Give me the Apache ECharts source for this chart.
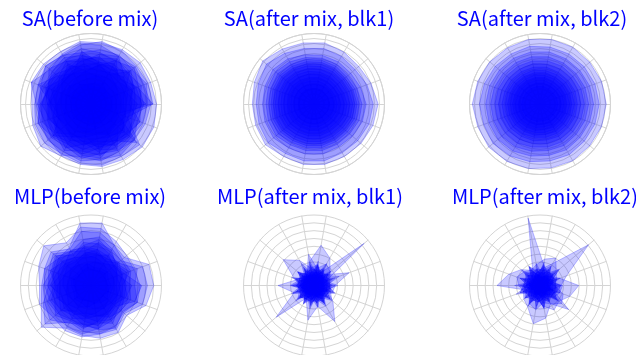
<!DOCTYPE html>
<html>
<head>
<meta charset="utf-8">
<script src="https://cdn.jsdelivr.net/npm/echarts@6/dist/echarts.min.js"></script>
<style>
html,body{margin:0;padding:0;background:#fff;}
#chart{width:636px;height:355px;}
</style>
</head>
<body>
<div id="chart"></div>
<script>
// Panel titles
const titles = ['SA(before mix)', 'SA(after mix, blk1)', 'SA(after mix, blk2)',
                'MLP(before mix)', 'MLP(after mix, blk1)', 'MLP(after mix, blk2)'];
// 18 directions, every 20 degrees counter-clockwise from the right
const directions = ['0','20','40','60','80','100','120','140','160','180','200','220','240','260','280','300','320','340'];

// Polygon radii (fraction of outer circle), one row per polygon, ordered by direction
const saBefore = [
  [0.93,0.90,0.91,0.89,0.88,0.90,0.86,0.88,0.90,0.84,0.88,0.93,0.85,0.87,0.90,0.91,0.95,0.95],
  [0.88,0.86,0.84,0.87,0.90,0.85,0.80,0.84,0.80,0.80,0.84,0.86,0.82,0.85,0.88,0.86,0.90,0.55],
  [0.85,0.80,0.82,0.78,0.84,0.88,0.82,0.76,0.90,0.78,0.76,0.80,0.78,0.82,0.80,0.84,0.80,0.82],
  [0.80,0.84,0.76,0.80,0.78,0.74,0.80,0.84,0.76,0.74,0.80,0.78,0.84,0.76,0.82,0.78,0.74,0.78],
  [0.75,0.72,0.80,0.70,0.74,0.80,0.72,0.68,0.74,0.76,0.70,0.74,0.70,0.78,0.72,0.76,0.80,0.70],
  [0.70,0.76,0.68,0.74,0.66,0.70,0.76,0.72,0.66,0.70,0.74,0.66,0.76,0.68,0.74,0.70,0.68,0.74],
  [0.62,0.66,0.70,0.60,0.68,0.64,0.58,0.66,0.70,0.62,0.66,0.70,0.62,0.66,0.58,0.68,0.72,0.62],
  [0.88,0.70,0.55,0.62,0.58,0.66,0.70,0.60,0.64,0.70,0.62,0.58,0.66,0.72,0.64,0.60,0.85,0.40],
  [0.58,0.62,0.55,0.66,0.60,0.54,0.62,0.58,0.52,0.60,0.64,0.56,0.60,0.54,0.62,0.66,0.58,0.56],
  [0.50,0.56,0.60,0.52,0.48,0.58,0.54,0.50,0.56,0.62,0.52,0.48,0.56,0.60,0.50,0.54,0.58,0.52],
  [0.78,0.60,0.50,0.72,0.55,0.48,0.66,0.52,0.60,0.50,0.58,0.64,0.50,0.56,0.70,0.52,0.62,0.48],
  [0.46,0.50,0.44,0.52,0.56,0.46,0.50,0.54,0.44,0.48,0.52,0.46,0.54,0.48,0.44,0.50,0.46,0.52],
  [0.42,0.40,0.46,0.44,0.40,0.48,0.42,0.38,0.46,0.42,0.40,0.44,0.46,0.40,0.42,0.48,0.44,0.40],
  [0.36,0.40,0.34,0.38,0.42,0.36,0.34,0.40,0.38,0.36,0.40,0.34,0.38,0.42,0.36,0.34,0.38,0.40],
  [0.66,0.52,0.72,0.48,0.60,0.76,0.50,0.62,0.80,0.56,0.48,0.70,0.54,0.46,0.66,0.74,0.50,0.60],
  [0.30,0.32,0.28,0.34,0.30,0.28,0.32,0.30,0.34,0.28,0.30,0.32,0.28,0.30,0.34,0.30,0.28,0.32],
  [0.72,0.68,0.62,0.78,0.72,0.62,0.70,0.78,0.64,0.72,0.80,0.72,0.66,0.74,0.78,0.64,0.70,0.66],
  [0.54,0.64,0.74,0.56,0.62,0.70,0.60,0.54,0.68,0.58,0.56,0.62,0.72,0.58,0.54,0.62,0.66,0.74],
  [0.26,0.24,0.28,0.26,0.24,0.28,0.26,0.24,0.28,0.26,0.24,0.28,0.26,0.24,0.28,0.26,0.24,0.28]
];
const saBlk1 = [
  [0.91,0.86,0.83,0.85,0.88,0.88,0.90,0.95,0.90,0.875,0.88,0.90,0.86,0.87,0.87,0.86,0.87,0.89],
  [0.84,0.80,0.76,0.78,0.80,0.80,0.83,0.88,0.84,0.82,0.83,0.85,0.81,0.82,0.82,0.80,0.81,0.83],
  [0.74,0.70,0.68,0.69,0.70,0.71,0.74,0.76,0.74,0.73,0.74,0.75,0.72,0.72,0.72,0.70,0.71,0.73],
  [0.68,0.65,0.63,0.65,0.66,0.67,0.69,0.71,0.69,0.68,0.69,0.70,0.67,0.67,0.67,0.66,0.66,0.68],
  [0.64,0.62,0.60,0.62,0.63,0.64,0.65,0.67,0.65,0.64,0.65,0.66,0.63,0.63,0.63,0.62,0.62,0.64],
  [0.61,0.59,0.57,0.59,0.60,0.61,0.62,0.63,0.62,0.61,0.62,0.62,0.60,0.60,0.60,0.59,0.59,0.61],
  [0.58,0.56,0.55,0.56,0.57,0.58,0.59,0.60,0.59,0.58,0.59,0.59,0.57,0.57,0.57,0.56,0.56,0.58],
  [0.55,0.53,0.52,0.53,0.54,0.55,0.56,0.57,0.56,0.55,0.56,0.56,0.54,0.54,0.54,0.53,0.53,0.55],
  [0.51,0.49,0.48,0.49,0.50,0.51,0.52,0.53,0.52,0.51,0.52,0.52,0.50,0.50,0.50,0.49,0.49,0.51],
  [0.47,0.45,0.44,0.45,0.46,0.47,0.48,0.49,0.48,0.47,0.48,0.48,0.46,0.46,0.46,0.45,0.45,0.47],
  [0.43,0.41,0.40,0.41,0.42,0.43,0.44,0.45,0.44,0.43,0.44,0.44,0.42,0.42,0.42,0.41,0.41,0.43],
  [0.38,0.37,0.36,0.37,0.38,0.38,0.39,0.40,0.39,0.38,0.39,0.39,0.38,0.38,0.38,0.37,0.37,0.38],
  [0.33,0.32,0.31,0.32,0.33,0.33,0.34,0.35,0.34,0.33,0.34,0.34,0.33,0.33,0.33,0.32,0.32,0.33],
  [0.28,0.27,0.27,0.28,0.28,0.28,0.29,0.29,0.29,0.28,0.29,0.29,0.28,0.28,0.28,0.27,0.27,0.28],
  [0.22,0.22,0.21,0.22,0.22,0.22,0.23,0.23,0.23,0.22,0.23,0.23,0.22,0.22,0.22,0.22,0.21,0.22]
];
const saBlk2 = [
  [0.94,0.93,0.92,0.93,0.93,0.93,0.92,0.93,0.94,0.96,0.94,0.95,0.94,0.93,0.92,0.93,0.92,0.93],
  [0.84,0.83,0.82,0.82,0.82,0.83,0.82,0.83,0.84,0.86,0.85,0.87,0.85,0.83,0.82,0.83,0.82,0.83],
  [0.76,0.75,0.74,0.74,0.75,0.75,0.75,0.75,0.76,0.77,0.77,0.78,0.77,0.75,0.74,0.75,0.74,0.75],
  [0.69,0.68,0.67,0.67,0.68,0.68,0.68,0.68,0.69,0.70,0.70,0.71,0.70,0.68,0.67,0.68,0.67,0.68],
  [0.63,0.62,0.61,0.62,0.62,0.62,0.62,0.62,0.63,0.64,0.64,0.64,0.64,0.62,0.62,0.62,0.61,0.62],
  [0.58,0.57,0.57,0.57,0.57,0.58,0.57,0.57,0.58,0.59,0.59,0.59,0.58,0.57,0.57,0.57,0.57,0.57],
  [0.53,0.53,0.52,0.52,0.53,0.53,0.53,0.53,0.53,0.54,0.54,0.54,0.53,0.53,0.52,0.53,0.52,0.53],
  [0.49,0.48,0.48,0.48,0.48,0.49,0.48,0.48,0.49,0.49,0.49,0.50,0.49,0.48,0.48,0.48,0.48,0.48],
  [0.45,0.45,0.44,0.44,0.45,0.45,0.45,0.45,0.45,0.46,0.46,0.46,0.45,0.45,0.44,0.45,0.44,0.45],
  [0.42,0.41,0.41,0.41,0.41,0.42,0.41,0.41,0.42,0.42,0.42,0.42,0.42,0.41,0.41,0.41,0.41,0.41],
  [0.38,0.38,0.37,0.37,0.38,0.38,0.38,0.38,0.38,0.39,0.39,0.39,0.38,0.38,0.37,0.38,0.37,0.38],
  [0.34,0.34,0.33,0.33,0.34,0.34,0.34,0.34,0.34,0.35,0.35,0.35,0.34,0.34,0.33,0.34,0.33,0.34],
  [0.30,0.30,0.29,0.29,0.30,0.30,0.30,0.30,0.30,0.31,0.31,0.31,0.30,0.30,0.29,0.30,0.29,0.30],
  [0.25,0.25,0.24,0.24,0.25,0.25,0.25,0.25,0.25,0.26,0.26,0.26,0.25,0.25,0.24,0.25,0.24,0.25]
];
const mlpBefore = [
  [0.89,0.875,0.62,0.66,0.90,0.90,0.62,0.60,0.70,0.70,0.75,0.92,0.70,0.72,0.76,0.77,0.66,0.83],
  [0.70,0.65,0.66,0.72,0.82,0.84,0.70,0.875,0.79,0.73,0.78,0.70,0.74,0.74,0.70,0.68,0.60,0.70],
  [0.80,0.78,0.55,0.60,0.70,0.66,0.56,0.70,0.64,0.60,0.72,0.85,0.60,0.66,0.70,0.72,0.62,0.78],
  [0.55,0.60,0.58,0.66,0.76,0.78,0.60,0.74,0.70,0.66,0.62,0.60,0.68,0.70,0.62,0.58,0.55,0.60],
  [0.62,0.70,0.50,0.52,0.60,0.62,0.50,0.66,0.60,0.68,0.70,0.76,0.62,0.56,0.64,0.70,0.58,0.70],
  [0.45,0.58,0.48,0.55,0.66,0.58,0.52,0.60,0.56,0.62,0.55,0.66,0.58,0.62,0.52,0.56,0.50,0.48],
  [0.72,0.50,0.44,0.48,0.52,0.56,0.46,0.52,0.62,0.50,0.60,0.54,0.50,0.58,0.62,0.50,0.46,0.66],
  [0.50,0.46,0.52,0.44,0.48,0.54,0.58,0.48,0.46,0.56,0.50,0.46,0.54,0.48,0.44,0.52,0.56,0.50],
  [0.40,0.48,0.42,0.50,0.44,0.40,0.46,0.54,0.50,0.44,0.48,0.56,0.42,0.46,0.52,0.44,0.40,0.46],
  [0.58,0.42,0.38,0.42,0.46,0.48,0.40,0.44,0.40,0.48,0.52,0.44,0.48,0.40,0.44,0.48,0.42,0.52],
  [0.36,0.40,0.44,0.36,0.40,0.44,0.38,0.36,0.42,0.40,0.36,0.42,0.38,0.44,0.40,0.36,0.38,0.40],
  [0.32,0.34,0.30,0.36,0.34,0.30,0.34,0.38,0.32,0.34,0.38,0.32,0.36,0.30,0.34,0.38,0.32,0.30],
  [0.28,0.26,0.30,0.28,0.26,0.32,0.28,0.26,0.30,0.28,0.26,0.30,0.28,0.32,0.26,0.28,0.30,0.26],
  [0.48,0.54,0.46,0.58,0.62,0.50,0.56,0.64,0.58,0.52,0.66,0.62,0.56,0.60,0.54,0.62,0.50,0.56],
  [0.42,0.38,0.50,0.40,0.52,0.46,0.42,0.48,0.52,0.58,0.44,0.50,0.46,0.52,0.58,0.46,0.44,0.40],
  [0.24,0.22,0.26,0.24,0.22,0.26,0.24,0.22,0.26,0.24,0.22,0.26,0.24,0.22,0.26,0.24,0.22,0.26]
];
const mlpBlk1 = [
  [0.22,0.18,0.93,0.22,0.20,0.15,0.12,0.18,0.15,0.20,0.12,0.15,0.10,0.12,0.15,0.20,0.18,0.22],
  [0.30,0.53,0.24,0.20,0.16,0.14,0.12,0.14,0.12,0.16,0.12,0.14,0.12,0.12,0.14,0.16,0.14,0.20],
  [0.15,0.24,0.30,0.45,0.58,0.35,0.20,0.15,0.12,0.18,0.10,0.12,0.15,0.10,0.12,0.15,0.10,0.12],
  [0.10,0.12,0.15,0.20,0.30,0.25,0.41,0.57,0.30,0.20,0.15,0.12,0.10,0.12,0.10,0.08,0.10,0.12],
  [0.12,0.10,0.15,0.10,0.12,0.20,0.15,0.20,0.25,0.51,0.30,0.70,0.20,0.15,0.10,0.12,0.10,0.15],
  [0.15,0.12,0.10,0.12,0.10,0.12,0.15,0.10,0.12,0.15,0.20,0.25,0.22,0.50,0.30,0.59,0.35,0.20],
  [0.24,0.20,0.30,0.35,0.25,0.45,0.20,0.15,0.20,0.25,0.20,0.15,0.30,0.20,0.25,0.20,0.33,0.25],
  [0.18,0.38,0.22,0.16,0.30,0.14,0.24,0.18,0.28,0.16,0.22,0.30,0.14,0.26,0.18,0.28,0.16,0.20],
  [0.12,0.16,0.26,0.12,0.20,0.28,0.12,0.22,0.14,0.30,0.12,0.18,0.26,0.12,0.30,0.14,0.24,0.12],
  [0.20,0.10,0.18,0.24,0.12,0.16,0.30,0.12,0.20,0.14,0.28,0.10,0.18,0.22,0.12,0.26,0.14,0.30],
  [0.10,0.22,0.12,0.18,0.14,0.10,0.18,0.26,0.10,0.22,0.14,0.20,0.10,0.18,0.24,0.10,0.20,0.14],
  [0.14,0.12,0.20,0.10,0.24,0.12,0.10,0.14,0.22,0.12,0.18,0.14,0.22,0.10,0.14,0.18,0.12,0.10],
  [0.30,0.14,0.20,0.12,0.35,0.16,0.28,0.12,0.22,0.34,0.14,0.26,0.12,0.30,0.16,0.22,0.12,0.28],
  [0.16,0.28,0.12,0.36,0.14,0.22,0.12,0.30,0.16,0.12,0.32,0.14,0.24,0.12,0.20,0.34,0.16,0.12],
  [0.22,0.12,0.32,0.14,0.20,0.12,0.26,0.14,0.34,0.12,0.20,0.16,0.30,0.14,0.26,0.12,0.30,0.18],
  [0.12,0.20,0.14,0.26,0.12,0.30,0.14,0.20,0.12,0.26,0.14,0.34,0.12,0.20,0.14,0.30,0.12,0.24],
  [0.26,0.16,0.12,0.20,0.28,0.12,0.18,0.30,0.14,0.20,0.26,0.12,0.18,0.28,0.12,0.16,0.26,0.14],
  [0.34,0.18,0.26,0.16,0.30,0.18,0.36,0.16,0.28,0.18,0.34,0.16,0.28,0.18,0.32,0.16,0.30,0.18],
  [0.18,0.32,0.16,0.28,0.18,0.34,0.16,0.30,0.18,0.32,0.16,0.28,0.18,0.34,0.16,0.30,0.18,0.32],
  [0.22,0.24,0.20,0.26,0.22,0.24,0.20,0.26,0.22,0.24,0.20,0.26,0.22,0.24,0.20,0.26,0.22,0.24],
  [0.18,0.20,0.16,0.22,0.18,0.20,0.16,0.22,0.18,0.20,0.16,0.22,0.18,0.20,0.16,0.22,0.18,0.20],
  [0.14,0.12,0.16,0.14,0.12,0.16,0.14,0.12,0.16,0.14,0.12,0.16,0.14,0.12,0.16,0.14,0.12,0.16],
  [0.08,0.10,0.12,0.09,0.10,0.08,0.12,0.10,0.09,0.11,0.08,0.10,0.12,0.09,0.10,0.08,0.11,0.09]
];
const mlpBlk2 = [
  [0.15,0.20,0.24,0.22,0.30,0.97,0.20,0.15,0.12,0.20,0.15,0.10,0.12,0.20,0.10,0.15,0.12,0.20],
  [0.30,0.40,0.90,0.36,0.25,0.20,0.15,0.12,0.10,0.15,0.12,0.10,0.15,0.12,0.20,0.15,0.20,0.25],
  [0.12,0.10,0.15,0.12,0.20,0.15,0.25,0.35,0.47,0.61,0.20,0.15,0.12,0.10,0.15,0.12,0.10,0.15],
  [0.55,0.30,0.20,0.15,0.12,0.10,0.15,0.12,0.10,0.15,0.12,0.10,0.15,0.20,0.30,0.40,0.35,0.45],
  [0.10,0.12,0.15,0.10,0.12,0.15,0.10,0.15,0.12,0.20,0.25,0.30,0.35,0.55,0.47,0.30,0.53,0.20],
  [0.20,0.25,0.30,0.45,0.38,0.30,0.25,0.30,0.35,0.30,0.25,0.20,0.30,0.35,0.25,0.30,0.40,0.35],
  [0.28,0.16,0.36,0.20,0.30,0.16,0.22,0.28,0.18,0.24,0.30,0.16,0.26,0.20,0.32,0.18,0.26,0.30],
  [0.14,0.26,0.18,0.30,0.14,0.22,0.30,0.16,0.26,0.14,0.22,0.28,0.16,0.30,0.14,0.26,0.18,0.14],
  [0.22,0.12,0.24,0.14,0.26,0.12,0.18,0.22,0.12,0.28,0.14,0.22,0.12,0.24,0.20,0.12,0.30,0.22],
  [0.10,0.18,0.12,0.20,0.10,0.16,0.12,0.10,0.20,0.12,0.18,0.10,0.20,0.12,0.10,0.18,0.12,0.16],
  [0.32,0.14,0.22,0.12,0.34,0.14,0.26,0.12,0.30,0.16,0.12,0.28,0.14,0.34,0.12,0.24,0.14,0.30],
  [0.14,0.30,0.12,0.26,0.16,0.32,0.12,0.24,0.14,0.36,0.12,0.20,0.30,0.12,0.26,0.14,0.32,0.12],
  [0.24,0.12,0.28,0.16,0.12,0.24,0.14,0.34,0.12,0.22,0.30,0.12,0.22,0.16,0.34,0.12,0.22,0.26],
  [0.12,0.22,0.14,0.32,0.22,0.12,0.30,0.14,0.24,0.12,0.26,0.14,0.34,0.12,0.18,0.28,0.12,0.18],
  [0.30,0.18,0.34,0.16,0.28,0.18,0.32,0.16,0.30,0.18,0.36,0.16,0.28,0.18,0.32,0.16,0.34,0.18],
  [0.22,0.24,0.20,0.26,0.22,0.24,0.20,0.26,0.22,0.24,0.20,0.26,0.22,0.24,0.20,0.26,0.22,0.24],
  [0.18,0.20,0.16,0.22,0.18,0.20,0.16,0.22,0.18,0.20,0.16,0.22,0.18,0.20,0.16,0.22,0.18,0.20],
  [0.14,0.12,0.16,0.14,0.12,0.16,0.14,0.12,0.16,0.14,0.12,0.16,0.14,0.12,0.16,0.14,0.12,0.16],
  [0.08,0.10,0.09,0.12,0.08,0.10,0.11,0.09,0.08,0.10,0.12,0.09,0.08,0.11,0.09,0.10,0.08,0.12]
];

const panels = [saBefore, saBlk1, saBlk2, mlpBefore, mlpBlk1, mlpBlk2];
const centersX = [91, 314, 540, 91, 314, 540];
const centersY = [104, 104, 104, 285.5, 285.5, 285.5];
const titleX = [85, 304, 537, 85, 305, 540];
const titleY = [3, 3, 3, 181, 181, 181];
const splits = [14, 14, 14, 9, 9, 9];

const gridColor = '#d4d4d4';
const radar = panels.map((p, i) => ({
  center: [centersX[i], centersY[i]],
  radius: 70.5,
  startAngle: 0,
  shape: 'circle',
  splitNumber: splits[i],
  indicator: directions.map(d => ({ name: '', min: 0, max: 1 })),
  axisName: { show: false },
  axisLine: { lineStyle: { color: gridColor, width: 1 } },
  splitLine: { lineStyle: { color: gridColor, width: 1 } },
  splitArea: { show: false },
  axisTick: { show: false },
  axisLabel: { show: false }
}));
const series = panels.map((p, i) => ({
  type: 'radar',
  radarIndex: i,
  symbol: 'none',
  silent: true,
  animation: false,
  lineStyle: { color: 'rgba(0,0,255,0.3)', width: 0.8 },
  areaStyle: { color: 'rgba(0,0,255,0.3)' },
  data: p.map(v => ({ value: v }))
}));
const title = titles.map((t, i) => ({
  text: t,
  left: titleX[i],
  top: titleY[i],
  textAlign: 'center',
  textStyle: { color: '#0000ff', fontSize: 20, fontWeight: 'normal', fontFamily: '"Noto Sans CJK KR", "Noto Sans", sans-serif' }
}));

const chart = echarts.init(document.getElementById('chart'), null, { renderer: 'canvas' });
chart.setOption({ animation: false, backgroundColor: '#ffffff', title, radar, series });
</script>
</body>
</html>
